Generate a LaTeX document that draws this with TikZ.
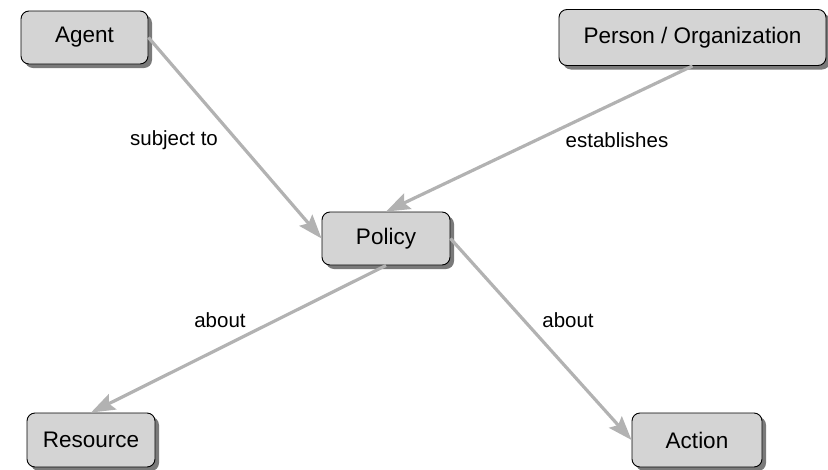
\documentclass[tikz,border=0pt]{standalone}
\usepackage{fontspec}
\setmainfont{Liberation Sans}
\usetikzlibrary{arrows.meta,shadows}
\definecolor{boxfill}{HTML}{D4D4D4}
\definecolor{edgegray}{HTML}{B2B2B2}
\definecolor{shadowgray}{HTML}{7A7A7A}
\tikzset{
  conceptbox/.style={draw=black, line width=0.9pt, fill=boxfill, rounded corners=8pt,
    inner sep=0pt, font=\fontsize{22.5}{26}\selectfont,
    drop shadow={shadow xshift=4pt, shadow yshift=-4pt, fill=shadowgray, opacity=1}},
  link/.style={draw=edgegray, line width=3.2pt, -{Stealth[length=24pt,width=17pt,inset=4pt]}},
  linklabel/.style={font=\fontsize{20.5}{24}\selectfont, inner sep=0pt}
}
\begin{document}
\begin{tikzpicture}[x=1pt,y=-1pt]
\useasboundingbox (0,0) rectangle (828,469);
\node[conceptbox, minimum width=127pt, minimum height=53pt] (agent) at (84.5,37.5) {Agent};
\node[conceptbox, minimum width=267pt, minimum height=56pt] (person) at (692.5,37.5) {Person / Organization};
\node[conceptbox, minimum width=128pt, minimum height=53pt] (policy) at (386,238.5) {Policy};
\node[conceptbox, minimum width=128pt, minimum height=54pt] (resource) at (91,440) {Resource};
\node[conceptbox, minimum width=130pt, minimum height=54pt] (action) at (697,440) {Action};
\draw[link] (agent.east) -- (policy.west);
\draw[link] (person.south) -- (policy.north);
\draw[link] (policy.south) -- (resource.north);
\draw[link] (policy.east) -- (action.west);
\node[linklabel] (l1) at (174,140) {subject to};
\node[linklabel] (l2) at (617,140) {establishes};
\node[linklabel] (l3) at (220,320) {about};
\node[linklabel] (l4) at (568,320) {about};
\end{tikzpicture}
\end{document}
